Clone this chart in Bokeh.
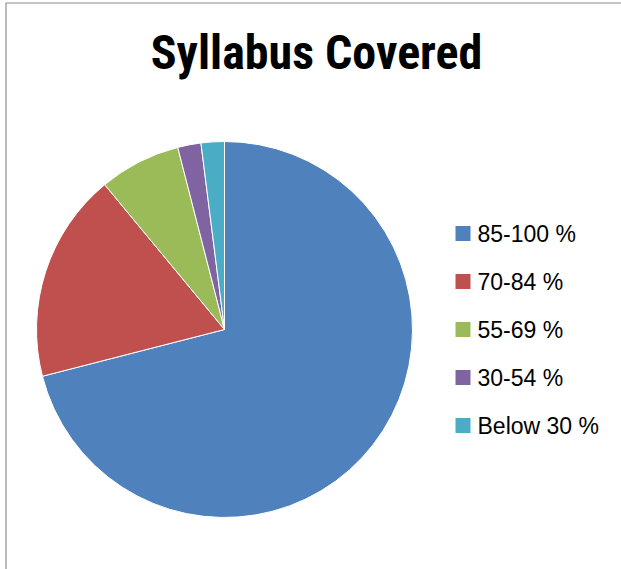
import numpy as np
from bokeh.plotting import figure
from bokeh.models import Range1d, ColumnDataSource
from bokeh.core.properties import value
from bokeh.embed import file_html
from bokeh.resources import INLINE

title_text = "Syllabus Covered"
categories = ["85-100 %", "70-84 %", "55-69 %", "30-54 %", "Below 30 %"]
shares = [71, 18, 7, 2, 2]
colors = ["#4F81BD", "#C0504D", "#9BBB59", "#8064A2", "#4BACC6"]

# figure occupies page pixels x 0..621, y 0..569 ; data x = page x, data y = 569 - page y
W, H = 621, 569
p = figure(width=W, height=H, output_backend="svg", toolbar_location=None,
           x_range=Range1d(0, 621), y_range=Range1d(0, 569),
           min_border=0, outline_line_color=None)
p.axis.visible = False
p.grid.visible = False
p.background_fill_color = "white"
p.border_fill_color = "white"

def Y(py):
    return 569 - py

# chart frame (left and top edges)
p.line(x=[5.5, 5.5, 621], y=[0, Y(2.5), Y(2.5)], line_color="#8c8c8c", line_width=1.2)

vals = np.array(shares, dtype=float)
frac = vals / vals.sum()
cum = np.concatenate([[0], np.cumsum(frac)])
start = np.pi / 2 - cum[:-1] * 2 * np.pi
end = np.pi / 2 - cum[1:] * 2 * np.pi
src = ColumnDataSource(dict(start=start, end=end, color=colors, cat=categories))
p.wedge(x=224, y=Y(329), radius=188, radius_units="screen",
        start_angle="start", end_angle="end", direction="clock",
        fill_color="color", line_color="white", line_width=1, source=src)

# title
p.text(x=[316], y=[Y(52)], text=[title_text], text_align="center", text_baseline="middle",
       text_font=value("Roboto Condensed"), text_font_style="bold",
       text_font_size="48px", text_color="black")

# legend
ly = [Y(233 + 48 * i) for i in range(len(categories))]
p.rect(x=[462.5] * len(categories), y=ly, width=15, height=15,
       width_units="screen", height_units="screen", fill_color=colors, line_color=None)
p.text(x=[477] * len(categories), y=ly, text=categories, text_align="left",
       text_baseline="middle", text_font=value("Liberation Sans"),
       text_font_size="23px", text_color="black")

open("out.html", "w").write(file_html(p, INLINE))
